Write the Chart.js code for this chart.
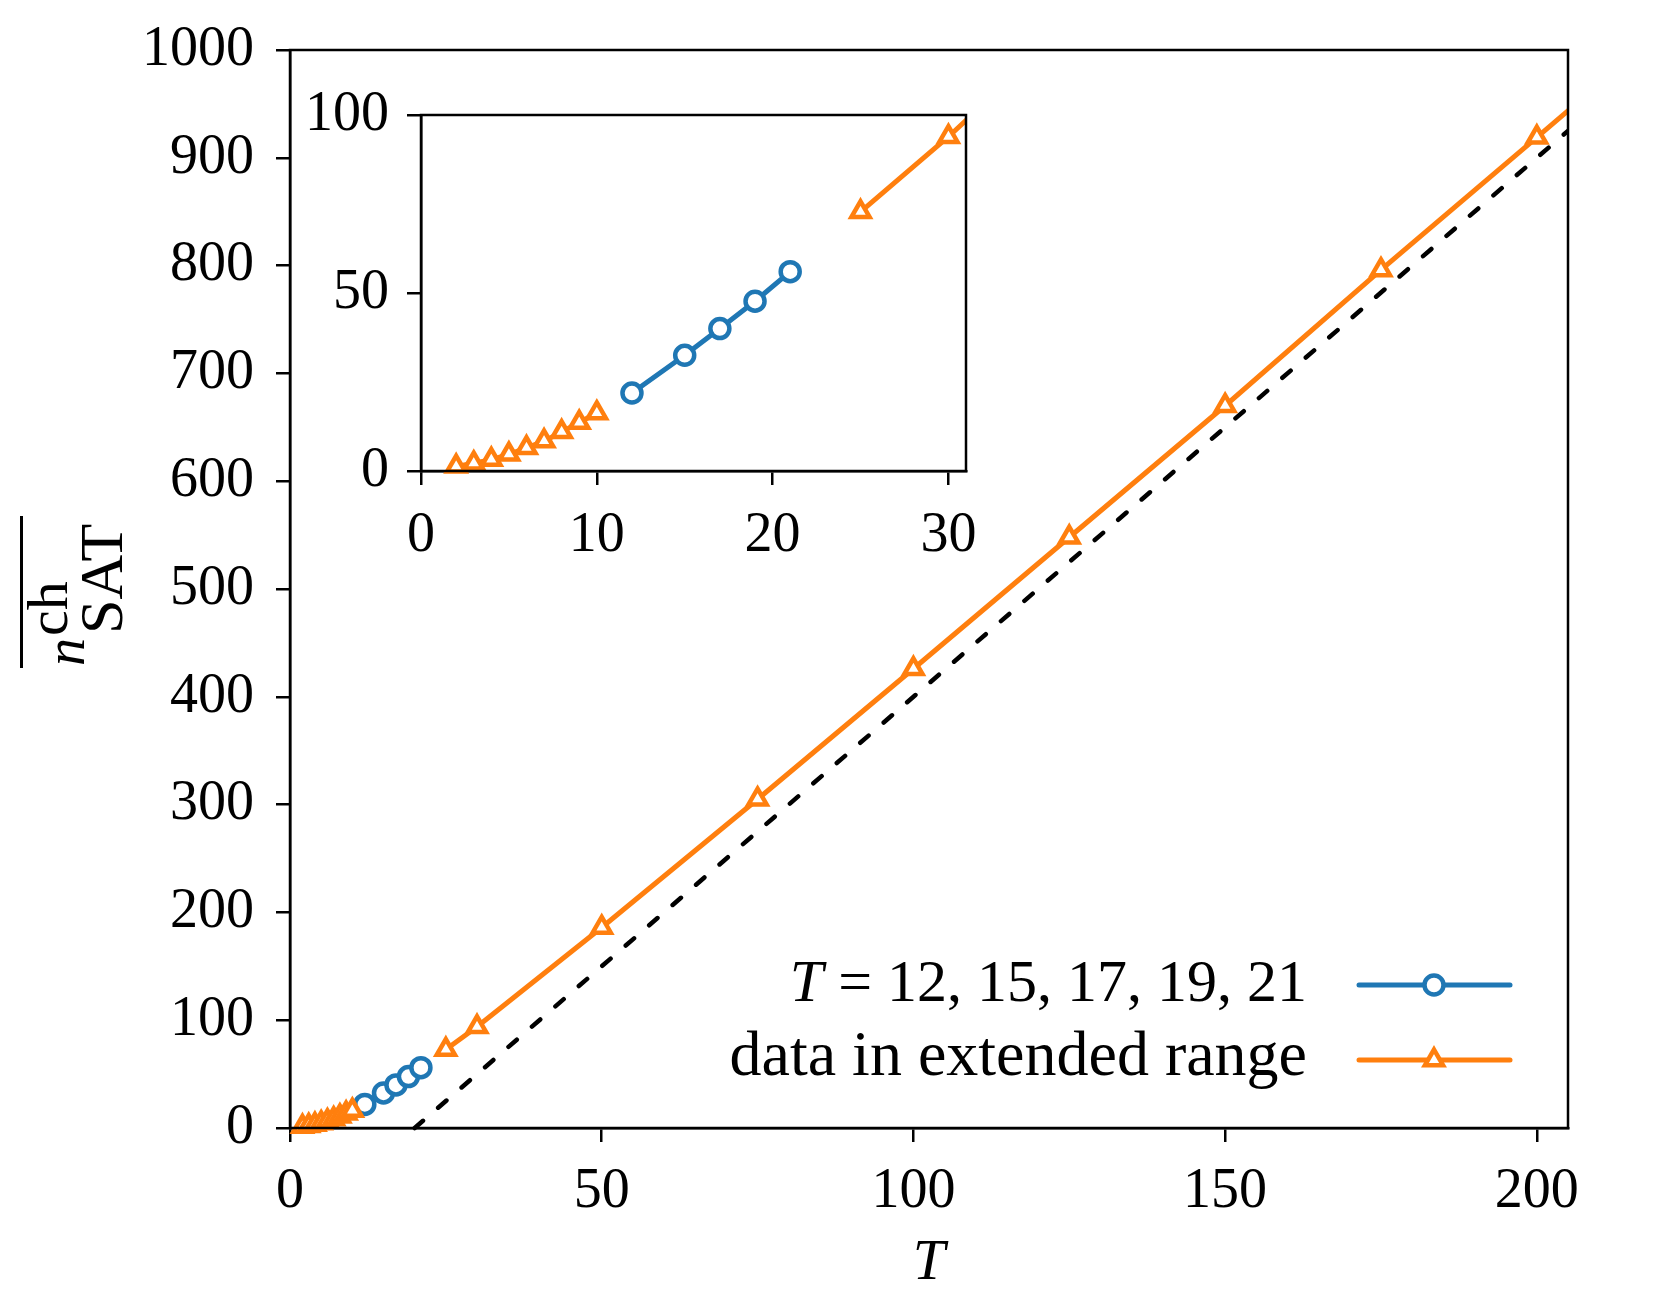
<!DOCTYPE html>
<html>
<head>
<meta charset="utf-8">
<script src="https://cdn.jsdelivr.net/npm/chart.js@4.4.0/dist/chart.umd.min.js"></script>
<style>
  html, body { margin: 0; padding: 0; background: #fff; }
  #wrap { position: relative; width: 1659px; height: 1303px; }
  #mainChart { position: absolute; left: 0; top: 0; }
  #insetChart { position: absolute; left: 230px; top: 60px; }
</style>
</head>
<body>
<div id="wrap">
  <canvas id="mainChart" width="1659" height="1303"></canvas>
  <canvas id="insetChart" width="800" height="520"></canvas>
</div>
<script>
// values
const sampleT = [12, 15, 17, 19, 21];
const sampleN = [21.9, 32.5, 40.0, 47.7, 56.0];

const smallT = [2, 3, 4, 5, 6, 7, 8, 9, 10];
const smallN = [1.3, 2.2, 3.2, 4.7, 6.5, 8.4, 11.0, 13.6, 16.3];

const bigT = [25, 30, 50, 75, 100, 125, 150, 175, 200, 250];
const bigN = [72.8, 93.9, 186, 305, 426, 548, 670, 796, 919, 1165];

// dashed guide line, n = 5 (T - 20)
const refT = [20, 250];
const refN = [0, 1150];

const mainXTicks = [0, 50, 100, 150, 200];
const mainYTicks = [0, 100, 200, 300, 400, 500, 600, 700, 800, 900, 1000];
const insetXTicks = [0, 10, 20, 30];
const insetYTicks = [0, 50, 100];

const legendLabels = ['12, 15, 17, 19, 21', 'data in extended range'];

const BLUE = '#1f77b4';
const ORANGE = '#ff7f0e';
const FONT = "'Liberation Serif', 'Times New Roman', serif";

Chart.defaults.font.family = FONT;
Chart.defaults.color = '#000';

const toXY = (xs, ys) => xs.map((x, i) => ({ x: x, y: ys[i] }));

function makeDatasets(withGuide) {
  const list = [
    {
      label: 'sample',
      data: toXY(sampleT, sampleN),
      borderColor: BLUE,
      backgroundColor: BLUE,
      borderWidth: 5,
      pointStyle: 'circle',
      pointRadius: 9.5,
      pointBorderWidth: 4.5,
      pointBackgroundColor: '#fff',
      pointBorderColor: BLUE,
      order: 2
    },
    {
      label: 'extended',
      // gap between the two stretches of the extended range
      data: toXY(smallT, smallN).concat([{ x: 11, y: null }], toXY(bigT, bigN)),
      borderColor: ORANGE,
      backgroundColor: ORANGE,
      borderWidth: 5,
      pointStyle: 'triangle',
      pointRadius: 10.5,
      pointBorderWidth: 4.5,
      pointBackgroundColor: '#fff',
      pointBorderColor: ORANGE,
      spanGaps: false,
      order: 1
    }
  ];
  if (withGuide) {
    list.push({
      label: 'guide',
      data: toXY(refT, refN),
      borderColor: '#000',
      borderWidth: 4.5,
      borderDash: [11, 20],
      borderCapStyle: 'round',
      pointRadius: 0,
      order: 3
    });
  }
  return list;
}

function axis(min, max, tickList, fitSize, isX, pad, title) {
  const cfg = {
    type: 'linear',
    min: min,
    max: max,
    afterBuildTicks: a => { a.ticks = tickList.map(v => ({ value: v })); },
    afterFit: a => { if (isX) a.height = fitSize; else a.width = fitSize; },
    ticks: {
      font: { size: 56, lineHeight: isX ? 1.2 : 1 },
      color: '#000',
      padding: pad,
      maxRotation: 0,
      autoSkip: false,
      callback: v => String(v)
    },
    grid: { drawOnChartArea: false, drawTicks: true, tickLength: 14, color: '#000', lineWidth: 2.5 },
    border: { display: true, color: '#000', width: 2.5 }
  };
  if (title) cfg.title = title;
  return cfg;
}

const boxPlugin = {
  id: 'box',
  afterDraw(chart) {
    const { ctx, chartArea: a } = chart;
    ctx.save();
    ctx.strokeStyle = '#000';
    ctx.lineWidth = 2.5;
    ctx.strokeRect(a.left, a.top, a.right - a.left, a.bottom - a.top);
    ctx.restore();
  }
};

function drawMarker(ctx, ds, x, y) {
  const r = ds.pointRadius;
  ctx.save();
  ctx.lineWidth = ds.pointBorderWidth;
  ctx.strokeStyle = ds.pointBorderColor;
  ctx.fillStyle = ds.pointBackgroundColor;
  ctx.beginPath();
  if (ds.pointStyle === 'circle') {
    ctx.arc(x, y, r, 0, Math.PI * 2);
  } else {
    for (let k = 0; k < 3; k++) {
      const ang = k * 2 * Math.PI / 3;
      const px = x + Math.sin(ang) * r;
      const py = y - Math.cos(ang) * r;
      if (k === 0) ctx.moveTo(px, py); else ctx.lineTo(px, py);
    }
    ctx.closePath();
  }
  ctx.fill();
  ctx.stroke();
  ctx.restore();
}

// legend: text right-aligned, sample line to the right of it
const legendPlugin = {
  id: 'sideLegend',
  afterDraw(chart) {
    const ctx = chart.ctx;
    const dss = chart.data.datasets;
    const textRight = 1307;
    const lineX0 = 1359, lineX1 = 1510, markX = 1434;
    const rows = [{ y: 985, base: 1001 }, { y: 1060, base: 1075 }];
    ctx.save();
    ctx.textBaseline = 'alphabetic';
    ctx.fillStyle = '#000';

    // row 1: italic T = ...
    ctx.font = '60px ' + FONT;
    const rest = ' = ' + legendLabels[0];
    const wRest = ctx.measureText(rest).width;
    ctx.font = 'italic 60px ' + FONT;
    const wT = ctx.measureText('T').width;
    ctx.fillText('T', textRight - wRest - wT, rows[0].base);
    ctx.font = '60px ' + FONT;
    ctx.textAlign = 'right';
    ctx.fillText(rest, textRight, rows[0].base);
    ctx.font = '64px ' + FONT;
    ctx.fillText(legendLabels[1], textRight, rows[1].base);

    [0, 1].forEach(i => {
      const ds = dss[i];
      ctx.strokeStyle = ds.borderColor;
      ctx.lineWidth = ds.borderWidth;
      ctx.lineCap = 'round';
      ctx.beginPath();
      ctx.moveTo(lineX0, rows[i].y);
      ctx.lineTo(lineX1, rows[i].y);
      ctx.stroke();
      drawMarker(ctx, ds, markX, rows[i].y);
    });
    ctx.restore();
  }
};

// y axis label: overline{ n^{ch}_{SAT} }, rotated
const yTitlePlugin = {
  id: 'yTitle',
  afterDraw(chart) {
    const ctx = chart.ctx;
    ctx.save();
    ctx.rotate(-Math.PI / 2);
    ctx.fillStyle = '#000';
    ctx.textBaseline = 'alphabetic';
    ctx.font = 'italic 56px ' + FONT;
    ctx.fillText('n', -666, 84);
    ctx.font = '58px ' + FONT;
    ctx.fillText('ch', -636, 67);
    ctx.font = '62px ' + FONT;
    ctx.fillText('SAT', -634, 122);
    ctx.strokeStyle = '#000';
    ctx.lineWidth = 3;
    ctx.beginPath();
    ctx.moveTo(-668, 21.5);
    ctx.lineTo(-516, 21.5);
    ctx.stroke();
    ctx.restore();
  }
};

const clipBox = { left: 15, top: 0, right: 0, bottom: 15 };

const mainDs = makeDatasets(true);
mainDs.forEach(d => { d.clip = clipBox; });

new Chart(document.getElementById('mainChart'), {
  type: 'line',
  data: { datasets: mainDs },
  options: {
    responsive: false,
    animation: false,
    layout: { padding: { left: 0, right: 91, top: 50, bottom: 0 } },
    plugins: { legend: { display: false }, tooltip: { enabled: false } },
    scales: {
      x: axis(0, 205, mainXTicks, 175, true, 17,
        { display: true, text: 'T', font: { size: 58, style: 'italic' }, padding: { top: 0, bottom: 4 } }),
      y: axis(0, 1000, mainYTicks, 290, false, 22)
    }
  },
  plugins: [boxPlugin, legendPlugin, yTitlePlugin]
});

const insetDs = makeDatasets(false);
insetDs.forEach(d => { d.clip = clipBox; });

new Chart(document.getElementById('insetChart'), {
  type: 'line',
  data: { datasets: insetDs },
  options: {
    responsive: false,
    animation: false,
    layout: { padding: { left: 0, right: 64, top: 55, bottom: 0 } },
    plugins: { legend: { display: false }, tooltip: { enabled: false } },
    scales: {
      x: axis(0, 31, insetXTicks, 109, true, 18),
      y: axis(0, 100, insetYTicks, 191, false, 18)
    }
  },
  plugins: [boxPlugin]
});
</script>
</body>
</html>
